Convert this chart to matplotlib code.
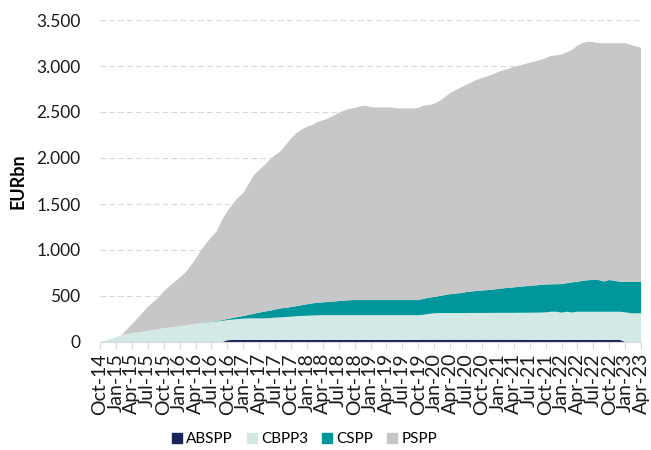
import matplotlib
matplotlib.use("Agg")
import matplotlib.pyplot as plt
from matplotlib.patches import Patch
import pandas as pd

# monthly holdings, EUR bn, Oct-14 .. Apr-23
months = pd.date_range("2014-10-01", periods=103, freq="MS")

abspp = ([0] * 24 + [20] + [22] * 11 + [24] * 25 + [25] * 20 + [24] * 18 + [0] * 4)

cbpp3 = [0, 15, 35, 55, 72, 85, 95, 105, 112, 120, 130, 140, 150, 157, 165, 172,
         180, 190, 198, 205, 212, 218, 224, 230, 218, 222, 228, 232, 235, 235,
         235, 235, 238, 243, 246, 250, 251, 256, 259, 262, 264, 266]
cbpp3 += [268] * 19
cbpp3 += [272, 280, 287, 290, 290, 290, 290, 290, 290, 291, 291, 291, 291, 291,
          292, 292, 292, 292, 293, 293, 294, 295, 296, 298, 305, 305, 295, 305,
          296, 305, 305, 305, 305, 305, 305, 305, 305, 305, 322, 313, 312, 312]

cspp = [0] * 20
cspp += [3, 4, 5, 8, 12, 18, 22, 29, 38, 50, 63, 73, 80, 87, 97, 100, 105, 110,
         117, 124, 132, 137, 139, 143, 147, 153, 159, 162]
cspp += [164] * 13
cspp += [173, 177, 178, 185, 195, 205, 211, 217, 227, 234, 239, 244, 248, 253,
         261, 267, 272, 277, 282, 287, 292, 296, 300, 303, 298, 299, 311, 311,
         328, 326, 336, 343, 345, 345, 329, 345, 336, 326, 333, 342, 343, 343]

pspp = [0] * 5
pspp += [45, 95, 145, 203, 260, 300, 340, 400, 443, 485, 528, 570, 630, 702,
         785, 855, 920, 974, 1092, 1170, 1238, 1298, 1337, 1425, 1503, 1550,
         1590, 1640, 1678, 1705, 1768, 1830, 1880, 1910, 1930, 1940, 1963, 1978,
         1994, 2020, 2044, 2063, 2080, 2088, 2103, 2113, 2098, 2093, 2093, 2093,
         2093, 2083, 2083, 2083, 2083, 2088, 2100, 2093, 2100, 2120, 2150, 2185,
         2209, 2233, 2253, 2270, 2295, 2310, 2325, 2340, 2357, 2370, 2380, 2395,
         2405, 2415, 2425, 2435, 2445, 2460, 2483, 2487, 2495, 2510, 2527, 2565,
         2585, 2592, 2586, 2574, 2590, 2574, 2583, 2593, 2593, 2575, 2560, 2545]

names = ["ABSPP", "CBPP3", "CSPP", "PSPP"]
colors = ["#1b2559", "#d3e9e6", "#00979c", "#c7c7c7"]

plt.rcParams['font.family'] = ['Lato', 'DejaVu Sans']

fig = plt.figure(figsize=(6.51, 4.5), dpi=100)
ax = fig.add_axes([100 / 651, 108 / 450, 541 / 651, 322 / 450])

ax.stackplot(months, abspp, cbpp3, cspp, pspp, colors=colors, linewidth=0)

ax.set_ylim(0, 3500)
ax.set_yticks(range(0, 3501, 500))
ax.yaxis.set_major_formatter(lambda v, p: f"{v:,.0f}".replace(",", "."))
ax.set_xlim(months[0], months[-1])
ticks = months[::3]
ax.set_xticks(ticks)
ax.set_xticklabels([d.strftime("%b-%y") for d in ticks])

# dashed horizontal grid, behind the areas
ax.set_axisbelow(True)
ax.yaxis.grid(True, color="#d9d9d9", linewidth=0.8, dashes=(5, 3))

for s in ["top", "right", "left"]:
    ax.spines[s].set_visible(False)
ax.spines["bottom"].set_color("#d9d9d9")

ax.tick_params(axis="x", length=5, color="#d9d9d9", pad=3, labelrotation=90,
               labelsize=14, labelcolor="#1a1a1a")
ax.tick_params(axis="y", length=0, pad=14, labelsize=12.5, labelcolor="#1a1a1a")

ax.set_ylabel("EURbn", fontsize=13, fontweight="bold", labelpad=7)

handles = [Patch(color=c) for c in colors]
fig.legend(handles, names, loc="center", bbox_to_anchor=(0.468, 1 - 439 / 450),
           ncol=4, frameon=False, fontsize=11, handlelength=0.65,
           handleheight=0.65, handletextpad=0.3, columnspacing=0.9)

plt.savefig("out.png", dpi=100)
